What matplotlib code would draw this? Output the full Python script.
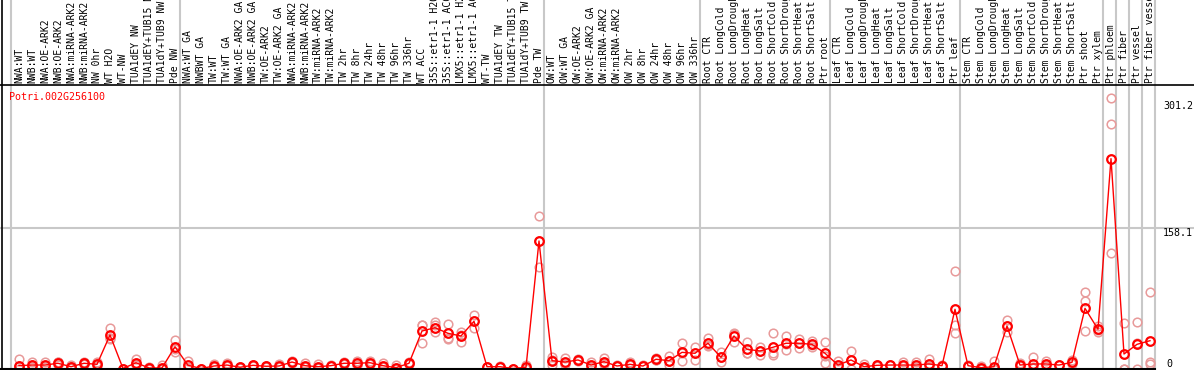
"""Expression profile for Potri.002G256100 across poplar samples."""

import matplotlib
matplotlib.use("Agg")
import matplotlib.pyplot as plt
from matplotlib.lines import Line2D
from matplotlib.transforms import blended_transform_factory

GENE = "Potri.002G256100"

SAMPLES = [
    "NWA:WT", "NWB:WT", "NWA:OE-ARK2", "NWB:OE-ARK2", "NWA:miRNA-ARK2", "NWB:miRNA-ARK2",
    "NW 0hr", "WT H2O", "WT-NW", "TUA1dEY NW", "TUA1dEY+TUB15 NW", "TUA1dY+TUB9 NW", "Pde NW",
    "NWA:WT GA", "NWBWT GA", "TW:WT", "TW:WT GA", "NWA:OE-ARK2 GA", "NWB:OE-ARK2 GA",
    "TW:OE-ARK2", "TW:OE-ARK2 GA", "NWA:miRNA-ARK2", "NWB:miRNA-ARK2", "TW:miRNA-ARK2",
    "TW:miRNA-ARK2", "TW 2hr", "TW 8hr", "TW 24hr", "TW 48hr", "TW 96hr", "TW 336hr", "WT ACC",
    "35S::etr1-1 H2O", "35S::etr1-1 ACC", "LMX5::etr1-1 H2O", "LMX5::etr1-1 ACC", "WT-TW",
    "TUA1dEY TW", "TUA1dEY+TUB15 TW", "TUA1dY+TUB9 TW", "Pde TW",
    "OW:WT", "OW:WT GA", "OW:OE-ARK2", "OW:OE-ARK2 GA", "OW:miRNA-ARK2", "OW:miRNA-ARK2",
    "OW 2hr", "OW 8hr", "OW 24hr", "OW 48hr", "OW 96hr", "OW 336hr",
    "Root CTR", "Root LongCold", "Root LongDrought", "Root LongHeat", "Root LongSalt",
    "Root ShortCold", "Root ShortDrought", "Root ShortHeat", "Root ShortSalt", "Ptr root",
    "Leaf CTR", "Leaf LongCold", "Leaf LongDrought", "Leaf LongHeat", "Leaf LongSalt",
    "Leaf ShortCold", "Leaf ShortDrought", "Leaf ShortHeat", "Leaf ShortSalt", "Ptr leaf",
    "Stem CTR", "Stem LongCold", "Stem LongDrought", "Stem LongHeat", "Stem LongSalt",
    "Stem ShortCold", "Stem ShortDrought", "Stem ShortHeat", "Stem ShortSalt", "Ptr shoot",
    "Ptr xylem", "Ptr phloem", "Ptr fiber", "Ptr vessel", "Ptr fiber vessel",
]

# number of samples in each experiment block
GROUP_SIZES = [13, 28, 12, 10, 10, 11, 1, 1, 1, 1]

MEANS = [
    3.2, 3.9, 3.9, 5.9, 2.0, 5.9, 4.7, 37.7, 0.0, 6.5, 0.6, 0.6, 24.5,
    3.6, 0.0, 2.8, 3.9, 1.4, 3.6, 2.5, 2.8, 7.3, 3.2, 2.0, 3.2, 5.9, 5.9, 6.5, 3.2,
    0.9, 5.9, 42.2, 45.9, 39.6, 36.6, 53.1, 2.0, 2.0, 0.0, 1.4, 143.5,
    8.8, 7.3, 9.6, 3.9, 7.7, 2.8, 4.7, 2.8, 10.4, 8.8, 18.2, 17.1,
    28.4, 12.6, 36.6, 21.6, 19.7, 23.9, 28.4, 28.4, 27.2, 17.1,
    3.9, 9.6, 2.0, 3.6, 3.9, 3.9, 3.9, 5.1, 3.2, 66.6,
    3.2, 0.9, 2.0, 47.8, 3.9, 5.1, 5.1, 3.9, 7.0, 67.7, 44.1,
    236.1, 16.3, 27.2, 31.3,
]

REPLICATES = [
    [10.5, 2.5, 0.0], [7.0, 3.0, 1.5], [7.3, 3.0, 1.5], [6.8, 3.9, 7.0], [3.9, 1.5, 0.5],
    [7.3, 5.5, 5.0], [7.3, 3.5, 3.3], [45.8, 34.0, 33.3], [0.0, 0.0, 0.0], [10.7, 5.0, 3.9],
    [1.7, 0.0, 0.0], [3.9, 0.0, 0.0], [32.1, 22.5, 18.9],
    [8.4, 1.5, 1.0], [0.0, 0.0, 0.0], [5.1, 2.0, 1.5], [6.2, 3.0, 2.5], [2.0, 1.2, 1.0],
    [4.5, 3.5, 3.0], [3.0, 2.5, 2.0], [5.1, 2.0, 1.5], [8.4, 7.0, 6.5], [5.9, 2.0, 1.6],
    [4.7, 1.0, 0.5], [4.0, 3.0, 2.5], [7.7, 5.0, 5.0], [8.8, 4.5, 4.4], [8.4, 5.5, 5.6],
    [6.5, 1.5, 1.6], [3.6, 0.0, 0.0], [7.3, 5.2, 5.2], [49.5, 48.6, 28.4], [52.7, 48.9, 41.4],
    [49.7, 34.6, 33.2], [41.4, 38.0, 30.2], [60.2, 53.0, 45.9], [2.0, 2.0, 2.0],
    [3.0, 1.5, 1.5], [0.0, 0.0, 0.0], [3.6, 0.5, 0.0], [171.6, 143.5, 114.5],
    [12.6, 9.5, 3.9], [11.5, 5.5, 5.0], [10.5, 9.5, 9.0], [7.7, 2.5, 1.5], [11.5, 6.0, 5.5],
    [3.5, 2.5, 2.5], [7.0, 3.6, 3.5], [3.5, 2.5, 2.5], [11.5, 10.0, 9.8], [14.0, 8.5, 3.9],
    [28.4, 18.0, 8.4], [24.5, 17.0, 9.6],
    [34.0, 26.0, 25.0], [18.2, 12.6, 7.0], [40.3, 39.0, 30.2], [30.2, 17.5, 17.1],
    [24.0, 19.8, 15.2], [39.6, 17.0, 15.2], [36.6, 28.0, 20.8], [33.2, 28.5, 23.4],
    [31.0, 26.5, 24.5], [30.2, 14.5, 6.5],
    [8.4, 2.0, 1.5], [19.7, 9.2, 0.0], [4.7, 1.0, 0.5], [4.5, 3.2, 3.0], [4.5, 3.8, 3.5],
    [7.0, 2.5, 2.3], [7.7, 2.0, 2.0], [10.4, 2.5, 2.5], [4.0, 3.0, 2.5], [109.7, 48.9, 39.6],
    [4.0, 3.0, 2.5], [3.2, 0.0, 0.0], [8.8, 0.0, 0.0], [54.6, 48.0, 40.7], [6.5, 3.0, 2.5],
    [13.3, 1.0, 1.0], [8.8, 3.5, 3.0], [4.5, 3.8, 3.5], [9.6, 6.0, 5.5], [86.1, 76.0, 42.2],
    [47.8, 43.0, 41.4],
    [304.0, 274.8, 129.6], [50.9, 0.0, 0.0], [52.7, 28.5, 0.0], [86.1, 7.7, 5.1],
]

Y_TICKS = [301.2, 158.1, 0]

W, H = 1194, 370
MONO = "DejaVu Sans Mono"
RED = "#ff0000"
REP_COLOR = "#e89a9a"
GRID = "#c8c8c8"

fig = plt.figure(figsize=(W / 100, H / 100), dpi=100)
# plot area in pixel terms: x 1..1155, y 85..369 (from top)
ax = fig.add_axes([1 / W, 1 - 369 / H, 1154 / W, (369 - 85) / H])
ax.set_xlim((1 - 19) / 13, (1155 - 19) / 13)
ax.set_ylim(-0.56, 319.0)
ax.axis("off")

x = list(range(len(SAMPLES)))

# vertical group separators, full figure height
vx = blended_transform_factory(ax.transData, fig.transFigure)
pos = -0.62
ax.plot([pos, pos], [1 - 369 / H, 1], color=GRID, lw=1.5, transform=vx, clip_on=False, zorder=1)
for size in GROUP_SIZES:
    pos += size
    ax.plot([pos, pos], [1 - 369 / H, 1], color=GRID, lw=1.5, transform=vx, clip_on=False, zorder=1)

# horizontal reference line across the whole width
hy = blended_transform_factory(fig.transFigure, ax.transData)
ax.plot([0, 1], [158.1, 158.1], color=GRID, lw=1.5, transform=hy, clip_on=False, zorder=1)

# frame lines
fig.add_artist(Line2D([0, 1], [1 - 85 / H, 1 - 85 / H], color="black", lw=1.2))
fig.add_artist(Line2D([1.5 / W, 1.5 / W], [1 - 369 / H, 1], color="black", lw=1.2))
fig.add_artist(Line2D([0, 1155 / W], [1 - 369 / H, 1 - 369 / H], color="black", lw=1.5))

# replicates
for xi, reps in zip(x, REPLICATES):
    ax.plot([xi] * len(reps), reps, "o", ms=6.2, mfc="none", mec=REP_COLOR, mew=1.1,
            clip_on=False, zorder=2)

# mean line
ax.plot(x, MEANS, "-", color=RED, lw=1.0, clip_on=False, zorder=3)
ax.plot(x, MEANS, "o", ms=6.2, mfc="none", mec=RED, mew=1.6, clip_on=False, zorder=4)

# sample labels above the plot
lab_y = 1 - 83 / H
for xi, name in zip(x, SAMPLES):
    ax.text(xi, lab_y, name, rotation=90, ha="center", va="bottom", fontsize=7,
            family=MONO, transform=vx, clip_on=False)

# value labels at the right
for val in Y_TICKS:
    if val == 0:
        ax.text(1166 / W, val, "0", ha="left", va="bottom", fontsize=7.2, family=MONO,
                transform=hy)
    else:
        ax.text(1163 / W, val, f"{val}", ha="left", va="top", fontsize=7.2, family=MONO,
                transform=hy)

fig.text(9 / W, 1 - 97 / H, GENE, color=RED, fontsize=7.2, family=MONO, ha="left", va="center")

fig.savefig("out.png", dpi=100)
plt.close(fig)
